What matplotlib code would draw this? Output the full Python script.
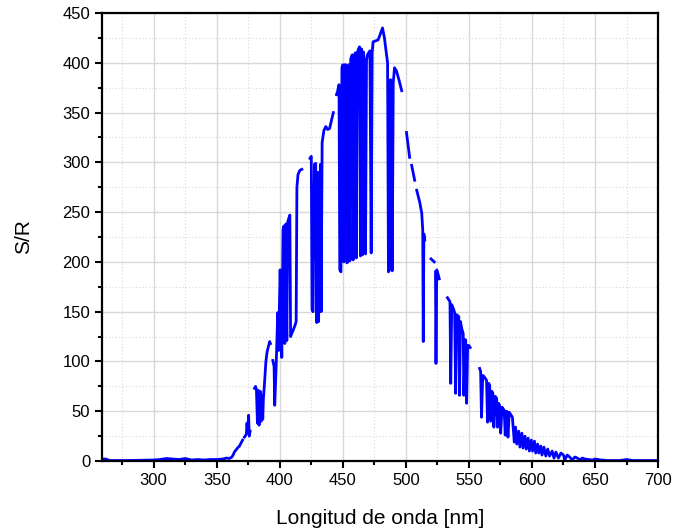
import numpy as np
import matplotlib
matplotlib.use("Agg")
import matplotlib.pyplot as plt
from matplotlib.ticker import MultipleLocator

nan = np.nan

# wavelength [nm] and signal-to-noise ratio (nan = gap in the trace)
wavelength = [
    260, 262, 265, 270, 280, 290, 300, 305, 310, 315, 320, 325, 330, 335, 340, 345, 350,
    355, 358, 360, 362, 363,
    364, 366.5, nan, 368, 370.5, nan, 372, 373.5, 374, 374.6, 375.3, 375.8, 376.5, nan,
    380, 380.8, 381.5, 382.3, 383, 383.6, 384.5, 385.3, 386, 386.5, 387, 388, 389, 390,
    391, 392, 392.6, nan,
    394.5, 395.5, 396, 397, 397.7, 398.4, 399, 399.6, 400.3, 401, 401.6, 402.3, 402.6,
    403.3, 404, 404.8, 405.6, 406.3, 407.2, 408, 408.6, 409.5, 410.5, 412, 413, 413.6,
    414.5, 416, 417.5, nan,
    424, 425, 425.6, 426.4, 427.5, 428.5, 429.4, 430.2, 430.8, 432.2, 432.8, 433.6, 435,
    436.5, 438, 439.5, 441, 442.5, nan,
    445, 446, 447, 447.6, 448.5, 449.3, 450, 450.8, 451.5, 452.5, 453.2, 454, 454.8,
    455.6, 456.3, 457.5, 458.2, 459, 460, 460.7, 461.5, 462.5, 463.3, 464, 464.8, 465.6,
    466.3, 467.3, 468, 468.8, 469.5, 470.5, 471.5, 472.5, 473.3, 474, 476, 478, 479.5,
    481.5, 483, 484.5, 485.5, 486.2, 487, 487.8, 488.5, 489.2, 490, 491, 492.5, 494.5,
    496.7, nan,
    500.5, 503, nan, 504.6, 507, nan, 508.6, 511, 512.6, 513.4, 513.8, 514.3, 515, nan,
    520, 522.5, nan, 523.5, 523.9, 524.5, 525.5, 526.5, nan,
    533, 535, 535.6, 536.4, 538, 538.7, 539.5, 540.3, 542, 542.6, 543.3, 544.3, 545.5,
    546, 547, 547.5, 548.2, 549, 550, 551, nan,
    558.5, 559.3, 560, 561, 562.5, 564, 564.8, 565.7, 566.5, 567.3, 568.2, 569, 569.8,
    570.8, 572, 572.7, 573.5, 574.3, 575.2, 576.3, 578, 578.8, 580, 581, 582, 583.5,
    584.5, 586, 587, 588, 589.5, 590.5, 592, 593, 594.5, 595.5, 597, 598, 599.5, 600.5,
    602, 603, 604.5, 605.5, 607, 608, 609.5, 611, 612.5, 614, 616, 617.5, 619, 621, 623,
    625, 626, 628, 630, 632, 634, 636, 638, 640, 642, 645, 648, 650, 655, 660, 670, 675,
    680, 690, 700,
]
snr = [
    2, 2, 0.5, 0.5, 0.5, 0.8, 1, 1.5, 2.5, 2, 1.5, 2.5, 1, 1.5, 1, 1.5, 1.5,
    2, 3, 2.5, 4, 6,
    9, 13, nan, 15, 21, nan, 24, 27, 38, 30, 46, 25, 30, nan,
    73, 75, 72, 38, 71, 36, 70, 40, 66, 42, 62, 80, 100, 110,
    115, 120, 118, nan,
    101, 95, 56, 90, 118, 149, 111, 150, 192, 150, 104, 200, 232,
    236, 118, 238, 121, 240, 244, 247, 125, 128, 131, 136, 140, 275,
    288, 292, 293, nan,
    304, 306, 152, 150, 298, 299, 139, 290, 140, 298, 150, 320, 332,
    336, 333, 334, 342, 350, nan,
    368, 372, 378, 192, 190, 395, 398, 200, 398, 398, 199, 200, 398,
    201, 404, 408, 202, 407, 410, 204, 410, 414, 416, 206, 414, 207,
    411, 398, 208, 402, 408, 410, 412, 209, 410, 421, 422, 423, 428,
    435, 425, 410, 400, 190, 192, 383, 360, 191, 380, 395, 392, 383,
    372, nan,
    330, 305, nan, 297, 282, nan, 272, 260, 249, 232, 120, 228, 222, nan,
    203, 200, nan, 190, 98, 192, 188, 183, nan,
    164, 160, 78, 157, 152, 149, 68, 147, 145, 66, 140, 133, 128,
    66, 122, 121, 58, 116, 116, 114, nan,
    93, 90, 44, 86, 84, 81, 39, 78, 76, 40, 70, 68, 34,
    65, 63, 34, 58, 56, 28, 54, 51, 26, 50, 24, 49, 46,
    44, 19, 34, 17, 30, 14, 28, 13, 25, 12, 23, 10, 21, 10,
    20, 8, 17, 8, 15, 6, 14, 5, 12, 5, 10, 3, 9, 3, 8,
    6, 1, 6, 4, 1, 4, 3, 1, 3, 2, 1.5, 1, 2, 1, 0.5, 0.5, 1.5,
    0.5, 0.5, 0.5,
]

plt.rcParams['font.family'] = ['Liberation Sans', 'DejaVu Sans']

fig = plt.figure(figsize=(6.74, 5.31), dpi=100)
ax = fig.add_axes([0.1513, 0.1318, 0.8250, 0.8437])

ax.plot(wavelength, snr, color='#0000ff', linewidth=2.0, solid_joinstyle='round')

ax.set_xlim(259, 700)
ax.set_ylim(0, 450)
ax.xaxis.set_major_locator(MultipleLocator(50))
ax.xaxis.set_minor_locator(MultipleLocator(25))
ax.yaxis.set_major_locator(MultipleLocator(50))
ax.yaxis.set_minor_locator(MultipleLocator(25))

ax.grid(which='major', color='#d8d8d8', linewidth=1.0, linestyle='-')
ax.grid(which='minor', color='#d8d8d8', linewidth=0.8, linestyle=(0, (1, 2)))
ax.set_axisbelow(True)

for side in ax.spines.values():
    side.set_linewidth(1.6)
    side.set_color('black')

ax.tick_params(which='major', direction='out', length=5, width=1.5, labelsize=12)
ax.tick_params(which='minor', direction='out', length=3, width=1.5)

ax.set_xlabel('Longitud de onda [nm]', fontsize=15, labelpad=15)
ax.set_ylabel('S/R', fontsize=15, labelpad=21)

fig.savefig('out.png', dpi=100)
